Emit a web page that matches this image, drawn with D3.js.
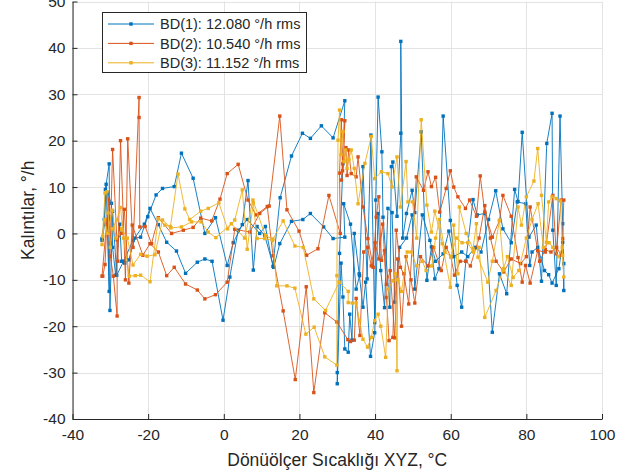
<!DOCTYPE html>
<html>
<head>
<meta charset="utf-8">
<script src="https://cdn.jsdelivr.net/npm/d3@7"></script>
<style>
  body { margin: 0; background: #fff; }
  svg { display: block; }
  text { font-family: "Liberation Sans", Arial, Helvetica, sans-serif; fill: #262626; }
</style>
</head>
<body>
<div id="chart"></div>
<script>
// axis ticks
const xTicks = [-40, -20, 0, 20, 40, 60, 80, 100];
const yTicks = [-40, -30, -20, -10, 0, 10, 20, 30, 40, 50];

const seriesNames = ["BD(1): 12.080 °/h rms", "BD(2): 10.540 °/h rms", "BD(3): 11.152 °/h rms"];
const seriesColors = ["#0072BD", "#D95319", "#EDB120"];

// [temperature °C, residual °/h], in time order
const bd1 = [
  [-32.2,-1.1],[-31.6,3.0],[-31.1,10.6],[-30.3,-12.5],[-30.8,8.7],[-29.7,6.5],[-29.4,-3.0],[-28.6,-9.0],
  [-27.5,2.0],[-27.0,-6.0],[-26.2,-6.4],[-25.1,-5.7],[-23.5,-1.0],[-22.0,-0.8],[-20.1,3.6],[-17.9,8.3],
  [-16.2,9.7],[-13.1,10.1],[-11.2,17.3],[-8.1,11.9],[-5.0,0.0],[-2.2,3.4],[0.9,-6.9],[2.5,-2.0],
  [4.9,1.9],[6.4,11.4],[7.8,-7.9],[8.8,1.5],[10.8,-0.4],[13.2,-7.3],[14.8,-2.2],[17.9,2.6],
  [20.9,3.0],[22.9,4.3],[26.4,1.4],[28.9,-1.1],[32.0,-0.8],
  [31.7,6.4],[33.5,2.0],[35.0,-12.0],[35.9,-9.1],[36.8,14.4],[37.9,-9.8],[38.9,21.2],[39.9,-19.2],
  [40.2,7.2],[40.8,29.4],[41.8,17.6],[42.1,3.5],[43.9,-15.9],[44.3,14.4],[44.7,15.4],[45.8,3.7],
  [46.8,21.6],[46.8,41.4],[47.3,-1.0],[48.3,4.3],[49.8,9.3],[50.5,4.5],[52.2,21.9],[53.7,-10.1],
  [54.9,-2.9],[55.8,-9.8],[56.9,-7.6],[58.0,25.3],[59.9,2.8],[61.7,-11.2],[62.9,-15.9],[64.0,-6.0],
  [65.9,7.3],[67.0,4.0],[69.0,4.3],[71.0,-21.3],[72.9,-8.7],[74.8,-13.0],[76.9,9.5],[77.8,6.9],
  [78.9,21.8],[80.7,-0.8],[82.6,1.8],[84.0,-10.3],[85.4,19.4],[86.8,25.9],[87.0,0.7],[87.9,-11.2],
  [88.9,25.3],[89.6,2.1],[89.9,-12.3],[89.9,-6.5],
  [89.6,-1.9],[88.6,-7.6],[86.8,-10.7],[85.9,-8.9],[84.8,-8.0],[83.0,-3.0],[81.5,-4.0],[80.9,-6.9],
  [79.8,6.4],[77.6,6.8],[76.0,-2.0],[73.8,1.0],[71.9,9.2],[70.0,3.0],[68.0,-4.0],[66.5,-3.0],
  [64.5,-5.0],[62.9,-4.0],[60.8,-5.0],[59.5,0.5],[58.0,-4.4],[56.0,-6.0],[54.5,-1.5],[52.5,4.0],
  [50.5,-12.0],[49.8,4.0],[48.3,-1.0],[46.5,-3.0],[45.2,-14.8],[44.5,4.5],[43.4,5.4],[42.5,-16.0],
  [41.5,-8.0],[40.8,4.3],[39.9,-21.4],[38.8,-26.5],[37.5,-10.5],[36.8,-15.9],[35.8,-8.7],[34.5,0.0],
  [33.9,-23.0],[33.3,-17.4],[32.9,-25.6],[32.0,-24.9],[31.5,-13.7],[31.0,-6.4],[30.0,-32.4],[30.0,-30.0],
  [30.6,-4.3],[31.5,15.0],[32.0,28.6],
  [28.9,20.6],[25.8,23.2],[22.9,20.5],[20.8,21.6],[17.9,16.7],[14.9,7.7],[13.0,-7.1],[11.0,1.5],
  [9.5,0.0],[6.2,3.0],[3.8,0.7],[1.6,-9.4],[-0.2,-18.7],[-3.1,-6.0],[-5.0,-5.5],[-7.0,-6.2],
  [-10.1,-8.6],[-12.5,-3.8],[-15.1,-1.9],[-17.3,1.9],[-19.5,5.4],[-21.0,2.0],[-24.0,-1.5],[-26.5,-6.0],
  [-28.3,-9.0],[-29.4,4.8],[-30.1,-16.6],[-30.3,15.0],[-31.3,9.5],[-31.5,2.0],[-32.2,-1.5]
];

const bd2 = [
  [-32.0,-9.2],[-31.4,-6.7],[-30.9,2.9],[-30.5,7.4],[-30.0,-4.9],[-29.2,-9.2],[-28.2,-17.8],[-28.2,-1.4],
  [-27.0,0.0],[-26.3,5.2],[-25.1,-10.7],[-24.2,1.8],[-21.4,-4.7],[-19.5,-2.2],[-17.3,-4.0],[-15.1,-9.1],
  [-13.1,-7.3],[-10.1,-10.9],[-7.0,-12.2],[-5.0,-14.1],[-2.2,-13.2],[0.9,-10.5],[2.9,0.9],[6.9,0.3],
  [9.5,4.3],[12.0,5.9],[14.8,25.3],[16.7,5.1],[19.9,0.5],[21.9,-4.7],[24.9,-3.3],[27.8,8.2],[30.8,0.0],
  [30.6,13.0],[31.1,24.5],[31.4,13.5],[31.7,15.8],[32.0,24.3],[31.1,11.5],[32.3,18.5],[32.6,12.5],
  [33.0,18.0],[33.7,12.9],[35.0,12.2],[35.5,16.5],[36.8,5.7],[38.1,-1.1],[39.5,-7.3],[40.3,3.5],
  [41.0,7.9],[41.7,-5.8],[42.5,-3.7],[43.0,-13.8],[43.7,-23.1],[44.7,-22.4],[45.6,0.7],[46.7,-7.3],
  [47.6,-8.7],[48.9,-15.2],[50.9,12.2],[52.8,9.3],[54.0,13.3],[54.9,10.1],[56.0,12.1],[57.1,4.6],
  [58.8,9.7],[59.9,13.5],[60.8,10.0],[61.9,7.9],[63.9,5.4],[65.0,7.2],[66.8,3.7],[67.8,12.4],
  [69.0,4.6],[71.0,-0.8],[72.9,2.8],[73.8,8.2],[76.0,3.7],[77.8,-5.2],[78.9,-10.5],[79.8,-6.9],
  [81.0,-10.7],[83.0,-3.7],[85.0,-4.0],[87.0,8.2],[87.9,-4.4],[89.2,7.2],[89.9,7.2],[89.6,-1.1],
  [89.2,-4.7],[88.0,-3.0],[86.5,-4.0],[85.0,-3.5],[83.5,-6.0],[81.0,5.7],[80.0,-5.0],[78.5,-6.5],
  [76.0,-5.5],[74.0,-8.3],[72.0,-6.0],[70.5,-1.0],[69.0,6.0],[67.5,-1.0],[65.2,-7.0],[64.0,-6.0],
  [62.5,-6.0],[61.0,-9.0],[60.0,-5.0],[58.8,-3.0],[57.5,-8.0],[55.5,-3.0],[54.0,-7.0],[52.0,-5.0],
  [50.5,-15.0],[49.5,-10.0],[48.2,-5.0],[47.0,-20.0],[46.0,-5.5],[45.2,-22.5],[44.0,-8.0],[43.0,-11.0],
  [42.0,2.0],[41.0,-5.5],[40.0,-2.0],[39.0,-7.0],[38.0,-3.0],[37.0,-4.0],[36.0,-22.0],[35.0,-14.0],
  [34.5,-23.0],[33.5,-23.3],[32.8,-22.9],
  [29.9,-19.1],[26.7,-17.1],[23.8,-34.3],[21.8,-11.5],[18.9,-31.5],[15.7,-16.7],[13.0,-4.8],[11.5,5.8],
  [8.5,4.0],[6.4,7.2],[3.8,14.9],[0.9,12.9],[-1.0,7.4],[-3.2,2.7],[-6.1,3.3],[-8.1,1.3],
  [-10.7,0.7],[-13.8,0.0],[-17.3,3.4],[-19.1,-2.2],[-20.8,1.5],[-22.2,1.4],[-22.4,25.0],[-22.4,29.3],
  [-24.0,-3.0],[-25.4,20.4],[-26.0,-10.0],[-27.3,20.0],[-28.0,-6.0],[-29.4,18.1],[-30.0,-2.0],[-31.0,2.0],
  [-32.2,-9.2]
];

const bd3 = [
  [-32.2,-2.4],[-31.4,8.7],[-30.9,9.0],[-30.6,4.4],[-30.0,-3.0],[-29.5,1.0],[-28.3,2.9],[-27.3,5.6],
  [-26.5,-1.0],[-25.0,-9.2],[-23.4,-9.1],[-22.0,-9.0],[-19.5,-10.4],[-17.3,3.2],[-15.6,1.8],[-14.1,1.5],
  [-12.1,12.8],[-10.3,5.3],[-9.0,3.0],[-6.1,4.8],[-4.1,5.4],[-1.3,6.6],[1.0,1.0],[2.9,2.9],
  [4.9,9.4],[6.2,-3.4],[7.8,6.6],[8.8,-1.1],[10.8,-1.1],[12.9,-1.5],[14.0,-11.3],[16.7,-11.3],
  [18.8,-11.8],[21.7,-21.7],[23.9,-20.2],[26.7,-26.6],[29.9,-28.4],[29.9,-9.1],
  [30.2,20.1],[30.6,26.6],[31.0,17.0],[31.5,22.0],[31.8,15.5],[32.2,18.0],[32.6,14.0],[33.1,16.0],
  [33.7,18.0],[34.5,14.0],[35.5,6.4],[37.3,15.1],[39.0,20.9],[39.9,11.8],[41.7,13.3],[43.4,12.9],
  [44.5,10.0],[45.8,16.5],[46.7,5.7],[48.2,15.5],[48.7,6.8],[49.9,6.8],[51.0,-1.0],[52.2,24.5],
  [53.7,6.1],[54.9,0.3],[55.8,4.8],[57.8,-2.2],[59.9,-11.6],[60.8,1.8],[61.9,-8.7],[62.3,5.7],
  [64.1,0.0],[65.9,-3.3],[66.8,2.1],[67.2,-5.1],[69.8,-10.5],[71.0,-6.0],[72.9,2.8],[74.0,-7.6],
  [76.0,-11.2],[77.8,5.7],[78.7,1.8],[80.0,7.9],[82.0,11.3],[83.0,18.3],[84.0,8.2],[85.3,-1.9],
  [85.9,6.8],[86.8,7.9],[87.9,7.5],[89.0,7.0],[89.6,-4.7],[89.9,-9.4],
  [89.5,-3.0],[88.5,-5.0],[87.0,-3.0],[86.0,-2.0],[84.5,-3.0],[83.1,6.4],[81.5,3.0],[80.0,-1.0],
  [78.0,-8.0],[76.5,-9.5],[75.0,-5.0],[73.8,-8.0],[72.0,-12.3],[69.0,-18.1],[67.5,-3.0],[66.0,-4.0],
  [64.5,-2.0],[63.0,-2.0],[61.5,-1.0],[60.0,-5.0],[58.5,-4.0],[57.0,3.0],[56.0,-1.0],[55.0,-7.0],
  [53.5,-8.0],[52.5,-6.0],[51.0,-7.0],[49.5,-4.0],[48.5,-4.0],[47.0,-12.5],[46.0,-10.0],[45.8,-29.6],
  [45.4,-8.7],[44.7,-10.2],[43.5,-12.0],[42.8,-26.7],[41.5,-20.0],[40.8,-17.4],[39.9,-18.8],[39.0,-22.4],
  [38.0,-24.5],[36.8,-22.8],[35.9,-18.8],[35.0,-15.0],[34.0,-15.0],[32.9,-14.9],
  [32.9,-12.5],[30.5,-10.5],[26.9,-16.6],[23.8,-14.1],[21.0,-3.0],[18.8,-2.7],[15.7,2.7],[13.0,-1.2],
  [11.0,-0.5],[7.7,7.2],[5.5,-1.0],[2.0,2.1],[-2.1,-0.9],[-4.1,0.3],[-6.0,2.5],[-8.5,2.5],
  [-11.2,1.4],[-14.0,1.2],[-16.2,2.9],[-18.2,-4.6],[-20.3,-4.9],[-22.0,-4.5],[-24.0,-6.8],[-25.5,-1.0],
  [-27.0,1.0],[-28.5,-1.0],[-29.5,5.0],[-30.8,0.0],[-31.5,3.0],[-32.0,-0.6]
];

const allSeries = [bd1, bd2, bd3];

const width = 640, height = 474;
const plot = { left: 72.5, right: 602, top: 1.5, bottom: 419 };

const svg = d3.select("#chart").append("svg")
  .attr("width", width)
  .attr("height", height);

const x = d3.scaleLinear().domain([-40, 100]).range([plot.left, plot.right]);
const y = d3.scaleLinear().domain([-40, 50]).range([plot.bottom, plot.top]);

// grid
const grid = svg.append("g").attr("stroke", "#e3e3e3").attr("stroke-width", 1);
grid.selectAll("line.h").data(yTicks).enter().append("line")
  .attr("x1", plot.left).attr("x2", plot.right)
  .attr("y1", d => Math.round(y(d)) + 0.5).attr("y2", d => Math.round(y(d)) + 0.5);
grid.selectAll("line.v").data(xTicks).enter().append("line")
  .attr("y1", plot.top).attr("y2", plot.bottom)
  .attr("x1", d => Math.round(x(d)) + 0.5).attr("x2", d => Math.round(x(d)) + 0.5);

// series lines and markers
const line = d3.line().x(d => x(d[0])).y(d => y(d[1]));

allSeries.forEach((data, i) => {
  const g = svg.append("g");
  g.append("path")
    .datum(data)
    .attr("d", line)
    .attr("fill", "none")
    .attr("stroke", seriesColors[i])
    .attr("stroke-width", 0.9)
    .attr("stroke-linejoin", "round");
  g.selectAll("rect").data(data).enter().append("rect")
    .attr("x", d => x(d[0]) - 1.7)
    .attr("y", d => y(d[1]) - 1.7)
    .attr("width", 3.4)
    .attr("height", 3.4)
    .attr("fill", seriesColors[i]);
});

// axes
const xAxis = svg.append("g")
  .attr("transform", `translate(0,${plot.bottom})`)
  .call(d3.axisBottom(x).tickValues(xTicks).tickSize(-5).tickSizeOuter(0).tickPadding(10).tickFormat(d => String(d)));
const yAxis = svg.append("g")
  .attr("transform", `translate(${plot.left},0)`)
  .call(d3.axisLeft(y).tickValues(yTicks).tickSize(-5).tickSizeOuter(0).tickPadding(7).tickFormat(d => String(d)));

[xAxis, yAxis].forEach(a => {
  a.select(".domain").attr("stroke", "#262626");
  a.selectAll(".tick line").attr("stroke", "#262626");
  a.selectAll(".tick text")
    .attr("fill", "#262626")
    .style("font-size", "15.5px")
    .style("font-family", "'Liberation Sans', Arial, sans-serif");
});

// axis labels
svg.append("text")
  .attr("x", (plot.left + plot.right) / 2)
  .attr("y", 466)
  .attr("text-anchor", "middle")
  .style("font-size", "17.5px")
  .text("Dönüölçer Sıcaklığı XYZ, °C");

svg.append("text")
  .attr("transform", `translate(34,${(plot.top + plot.bottom) / 2}) rotate(-90)`)
  .attr("text-anchor", "middle")
  .style("font-size", "17.5px")
  .text("Kalıntılar, °/h");

// legend
const legend = svg.append("g");
legend.append("rect")
  .attr("x", 102.5).attr("y", 12.5)
  .attr("width", 204).attr("height", 60)
  .attr("fill", "#fff")
  .attr("stroke", "#262626")
  .attr("stroke-width", 1);

seriesNames.forEach((name, i) => {
  const ly = 24 + i * 19.4;
  legend.append("line")
    .attr("x1", 108).attr("x2", 154)
    .attr("y1", ly).attr("y2", ly)
    .attr("stroke", seriesColors[i])
    .attr("stroke-width", 1);
  legend.append("rect")
    .attr("x", 131 - 1.7).attr("y", ly - 1.7)
    .attr("width", 3.4).attr("height", 3.4)
    .attr("fill", seriesColors[i]);
  legend.append("text")
    .attr("x", 160).attr("y", ly)
    .attr("dy", "0.36em")
    .style("font-size", "14.5px")
    .text(name);
});
</script>
</body>
</html>
